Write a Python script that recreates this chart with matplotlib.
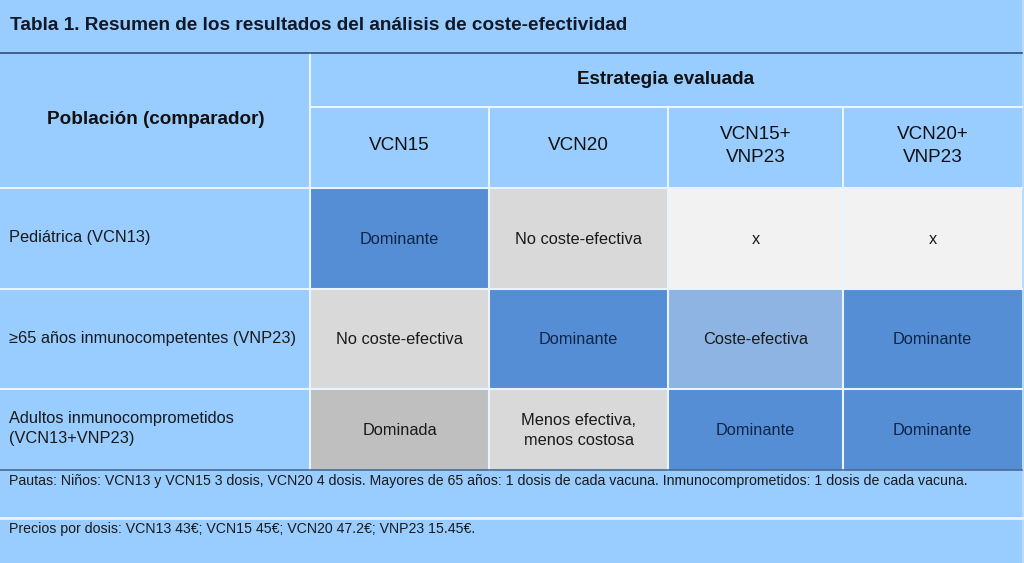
import matplotlib
matplotlib.use("Agg")
import matplotlib.pyplot as plt
from matplotlib.patches import Rectangle

plt.rcParams['font.family'] = ['Liberation Sans', 'DejaVu Sans']

# table content
title = "Tabla 1. Resumen de los resultados del análisis de coste-efectividad"
row_header = "Población (comparador)"
group_header = "Estrategia evaluada"
strategies = ["VCN15", "VCN20", "VCN15+\nVNP23", "VCN20+\nVNP23"]
populations = ["Pediátrica (VCN13)",
               "≥65 años inmunocompetentes (VNP23)",
               "Adultos inmunocomprometidos\n(VCN13+VNP23)"]
results = [
    ["Dominante", "No coste-efectiva", "x", "x"],
    ["No coste-efectiva", "Dominante", "Coste-efectiva", "Dominante"],
    ["Dominada", "Menos efectiva,\nmenos costosa", "Dominante", "Dominante"],
]
notes = ["Pautas: Niños: VCN13 y VCN15 3 dosis, VCN20 4 dosis. Mayores de 65 años: 1 dosis de cada vacuna. Inmunocomprometidos: 1 dosis de cada vacuna.",
         "Precios por dosis: VCN13 43€; VCN15 45€; VCN20 47.2€; VNP23 15.45€."]

# colours for each result
result_colors = {
    "Dominante": "#558ed5",
    "No coste-efectiva": "#d9d9d9",
    "x": "#f2f2f2",
    "Coste-efectiva": "#8db4e2",
    "Dominada": "#bfbfbf",
    "Menos efectiva,\nmenos costosa": "#d9d9d9",
}
bg = "#99ccff"

# layout (pixels)
W, H = 1024, 563
col_x = [0, 310, 489, 668, 843, 1022]
row_y = [188, 289, 389, 470]

fig = plt.figure(figsize=(W / 100, H / 100), dpi=100)
fig.patch.set_facecolor(bg)
ax = fig.add_axes([0, 0, 1, 1])
ax.set_xlim(0, W)
ax.set_ylim(H, 0)
ax.axis('off')

# right edge strip
ax.add_patch(Rectangle((1022, 0), 2, H, color="#b8dcff", lw=0))

# result cells
for i, row in enumerate(results):
    for j, val in enumerate(row):
        x0, x1 = col_x[j + 1], col_x[j + 2]
        y0, y1 = row_y[i], row_y[i + 1]
        ax.add_patch(Rectangle((x0, y0), x1 - x0, y1 - y0, color=result_colors[val], lw=0))
        tc = "#0f2546" if val == "Dominante" else "#1a1a1a"
        ax.text((x0 + x1) / 2, (y0 + y1) / 2 + 1, val, ha='center', va='center',
                fontsize=11.8, color=tc, linespacing=1.4)
    ax.text(9, (row_y[i] + row_y[i + 1]) / 2 - 1, populations[i], ha='left', va='center',
            fontsize=11.8, color="#1a1a1a", linespacing=1.4)

# header text
ax.text(10, 25, title, ha='left', va='center', fontsize=13.7, fontweight='bold', color="#111827")
ax.text(156, 120, row_header, ha='center', va='center', fontsize=13.6, fontweight='bold', color="#111111")
ax.text((310 + 1022) / 2, 79, group_header, ha='center', va='center', fontsize=13.6, fontweight='bold', color="#111111")
for j, s in enumerate(strategies):
    ax.text((col_x[j + 1] + col_x[j + 2]) / 2, 146, s, ha='center', va='center',
            fontsize=13.6, color="#111111", linespacing=1.45)

# notes
ax.text(9, 481, notes[0], ha='left', va='center', fontsize=10.2, color="#1a1a1a")
ax.text(9, 529, notes[1], ha='left', va='center', fontsize=10.2, color="#1a1a1a")

# grid lines
white = "#e8f4ff"
ax.plot([310, 1022], [107, 107], color=white, lw=1.5)
for y in [187.5, 288.5, 388.5]:
    ax.plot([0, 1022], [y, y], color=white, lw=1.5)
ax.plot([310, 310], [53, 470], color=white, lw=1.5)
for x in col_x[2:5]:
    ax.plot([x, x], [107, 470], color=white, lw=1.5)
ax.plot([0, 1022], [517.5, 517.5], color=white, lw=2)
ax.plot([0, 1022], [53, 53], color="#2f4f7a", lw=1.2)
ax.plot([0, 1022], [470, 470], color="#4a6a96", lw=1.2)

fig.savefig("out.png", dpi=100, facecolor=bg)
